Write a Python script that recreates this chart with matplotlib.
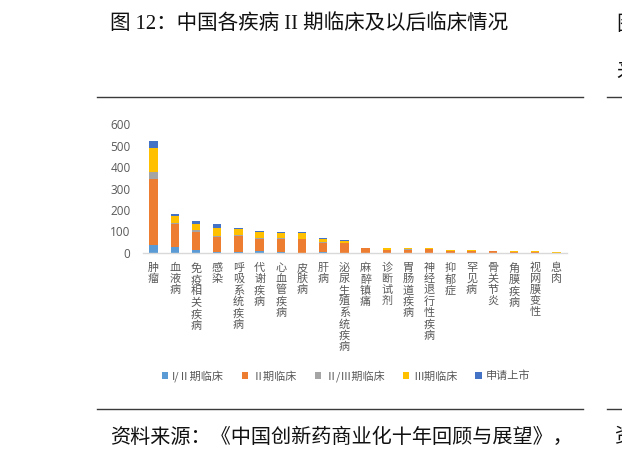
import matplotlib
matplotlib.use("Agg")
import matplotlib.pyplot as plt
from matplotlib.lines import Line2D
from matplotlib.patches import Patch
import numpy as np

plt.rcParams['font.family'] = ['Noto Sans CJK SC', 'DejaVu Sans']

categories = ['肿瘤', '血液病', '免疫相关疾病', '感染', '呼吸系统疾病', '代谢疾病',
              '心血管疾病', '皮肤病', '肝病', '泌尿生殖系统疾病', '麻醉镇痛', '诊断试剂',
              '胃肠道疾病', '神经退行性疾病', '抑郁症', '罕见病', '骨关节炎', '角膜疾病',
              '视网膜变性', '息肉']

phase_1_2 = [39, 28, 13, 3, 6, 10, 3, 2, 6, 2, 0, 2, 1, 0, 0, 0, 0, 0, 0, 0]
phase_2 = [307, 107, 85, 73, 74, 57, 62, 63, 39, 44, 21, 10, 14, 17, 10, 11, 7, 6, 6, 1]
phase_2_3 = [29, 5, 9, 3, 4, 3, 6, 2, 4, 2, 2, 4, 2, 2, 0, 0, 0, 0, 0, 0]
phase_3 = [113, 31, 30, 39, 27, 28, 22, 28, 16, 10, 2, 5, 6, 2, 2, 2, 4, 3, 3, 4]
filing = [31, 10, 10, 15, 4, 5, 7, 4, 3, 2, 0, 4, 2, 1, 0, 0, 0, 0, 0, 0]

series_names = ['I/Ⅱ期临床', 'Ⅱ期临床', 'Ⅱ/Ⅲ期临床', 'Ⅲ期临床', '申请上市']
series_values = [phase_1_2, phase_2, phase_2_3, phase_3, filing]
colors = ['#5B9BD5', '#ED7D31', '#A5A5A5', '#FFC000', '#4472C4']

yticks = [0, 100, 200, 300, 400, 500, 600]

W, H = 622, 453
fig = plt.figure(figsize=(W / 100, H / 100), dpi=100)

def fx(px):
    return px / W

def fy(py):
    return 1 - py / H

ax = fig.add_axes([fx(143), fy(253), fx(567) - fx(143), fy(124) - fy(253)])
x = np.arange(len(categories))
bottom = np.zeros(len(categories))
for name, vals, c in zip(series_names, series_values, colors):
    vals = np.array(vals, dtype=float)
    ax.bar(x, vals, bottom=bottom, width=0.39, color=c, label=name, linewidth=0)
    bottom += vals

ax.set_xlim(-0.5, len(categories) - 0.5)
ax.set_ylim(0, 600)
ax.set_yticks(yticks)
ax.set_yticklabels([str(v) for v in yticks], fontsize=8.5, color='#595959',
                   family=['Open Sans', 'DejaVu Sans'])
ax.set_xticks(x)
ax.set_xticklabels(['\n'.join(c) for c in categories], fontsize=8, color='#595959',
                   linespacing=1.12, va='top')
ax.tick_params(axis='both', length=0)
ax.tick_params(axis='y', pad=9)
ax.tick_params(axis='x', pad=7)
for s in ['top', 'right', 'left']:
    ax.spines[s].set_visible(False)
ax.spines['bottom'].set_color('#D9D9D9')
ax.spines['bottom'].set_linewidth(1.0)
ax.patch.set_alpha(0)

handles = [Patch(facecolor=c, edgecolor='none') for c in colors]
fig.legend(handles, series_names, loc='center', bbox_to_anchor=(fx(346), fy(376)),
           ncol=5, frameon=False, fontsize=8, handlelength=0.55, handleheight=0.55,
           handletextpad=0.4, columnspacing=1.6, labelcolor='#595959')

# page decorations
line_color = '#3a3a3a'
for yy in [96.5, 408.5]:
    fig.add_artist(Line2D([fx(97), fx(583)], [fy(yy), fy(yy)], color=line_color, lw=1.0))
    fig.add_artist(Line2D([fx(607), fx(622)], [fy(yy), fy(yy)], color=line_color, lw=1.0))

fig.text(fx(110), fy(24.5), '图 12：中国各疾病 II 期临床及以后临床情况', fontsize=14.8,
         family=['Liberation Serif', 'Noto Sans CJK SC'], va='center', ha='left', color='#111111')
fig.text(fx(110), fy(437), '资料来源：《中国创新药商业化十年回顾与展望》，', fontsize=14.5,
         va='center', ha='left', color='#111111')
fig.text(fx(616), fy(24.5), '图', fontsize=14.8, va='center', ha='left', color='#111111')
fig.text(fx(616), fy(71), '来', fontsize=14.8, va='center', ha='left', color='#111111')
fig.text(fx(614), fy(437), '资', fontsize=14.5, va='center', ha='left', color='#111111')

fig.savefig('out.png', dpi=100, facecolor='white')
